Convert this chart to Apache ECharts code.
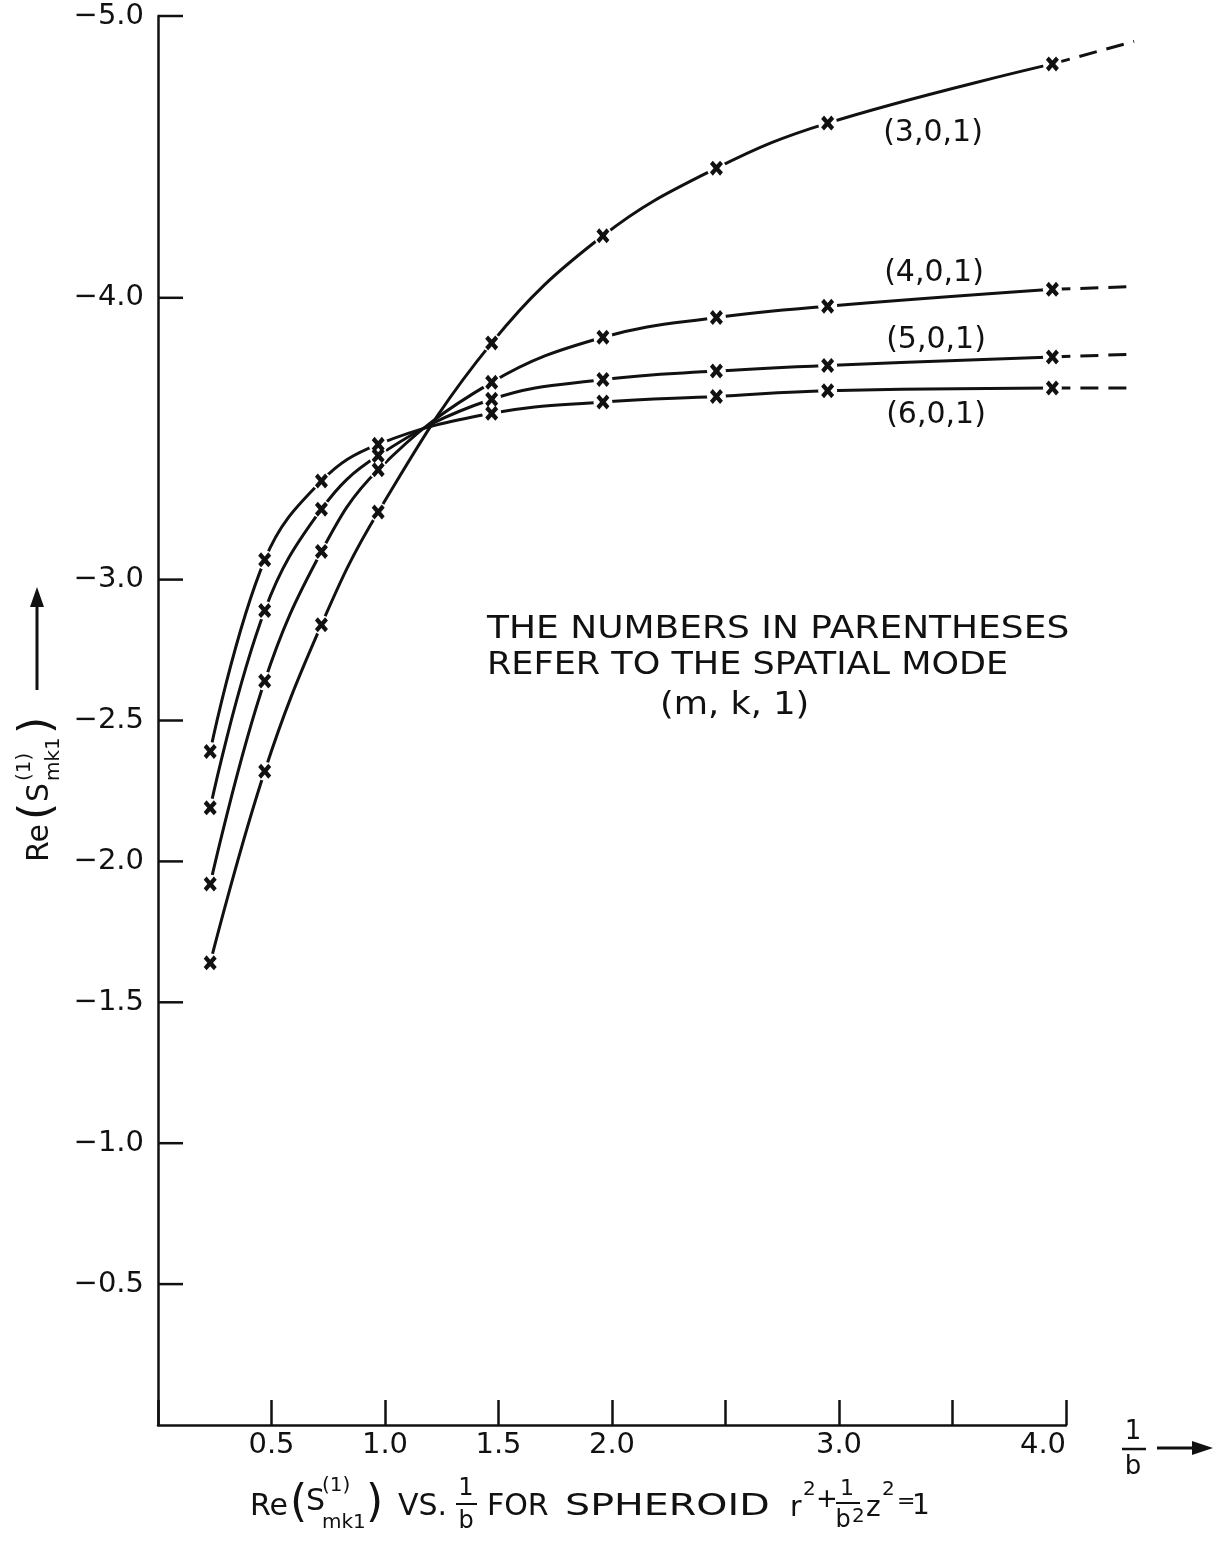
<!DOCTYPE html>
<html>
<head>
<meta charset="utf-8">
<script src="https://cdn.jsdelivr.net/npm/echarts@6/dist/echarts.min.js"></script>
<style>
  html, body { margin: 0; padding: 0; background: #fff; }
  #chart { width: 1216px; height: 1543px; }
</style>
</head>
<body>
<div id="chart"></div>
<script>
// 1/b at which the eigenvalues were computed
const xValues = [0.23, 0.47, 0.72, 0.97, 1.47, 1.96, 2.46, 2.95, 3.94];

// Re(S_mk1^(1)) for each spatial mode (m, k, 1)
const mode301 = [-1.64, -2.32, -2.84, -3.24, -3.84, -4.22, -4.46, -4.62, -4.83];
const mode401 = [-1.92, -2.64, -3.10, -3.39, -3.70, -3.86, -3.93, -3.97, -4.03];
const mode501 = [-2.19, -2.89, -3.25, -3.44, -3.64, -3.71, -3.74, -3.76, -3.79];
const mode601 = [-2.39, -3.07, -3.35, -3.48, -3.59, -3.63, -3.65, -3.67, -3.68];

// dashed continuation past the last computed point
const extendX = 4.30;
const extendValues = [-4.91, -4.04, -3.80, -3.68];

const modeNames = ['(3,0,1)', '(4,0,1)', '(5,0,1)', '(6,0,1)'];

// tick labels
const xLabelValues = [0.5, 1.0, 1.5, 2.0, 3.0, 4.0];
const xLabelTexts = ['0.5', '1.0', '1.5', '2.0', '3.0', '4.0'];
const yTickValues = [-5.0, -4.0, -3.0, -2.5, -2.0, -1.5, -1.0, -0.5];
const yTickTexts = ['\u22125.0', '\u22124.0', '\u22123.0', '\u22122.5', '\u22122.0', '\u22121.5', '\u22121.0', '\u22120.5'];

const FONT = '"DejaVu Sans", sans-serif';
const INK = '#111';
// hand-lettered "x" used for the computed points
const X_MARK = 'path://M0,2.2L2.2,0L5,2.8L7.8,0L10,2.2L7.2,5L10,7.8L7.8,10L5,7.2L2.2,10L0,7.8L2.8,5Z';

// plot area: the main grid ends at 1/b = 4.0; a second, wider grid with the
// same origin and scale carries the dashed continuations past that edge
const PLOT_LEFT = 158, PLOT_TOP = 16, PLOT_HEIGHT = 1409, PLOT_WIDTH = 908;
const X_MAX = 4, X_MAX_EXT = 4.4;

const modes = [mode301, mode401, mode501, mode601];
const pairs = vals => xValues.map((x, i) => [x, vals[i]]);
const last = xValues.length - 1;

const series = [];
modes.forEach((vals, k) => {
  series.push({
    name: modeNames[k],
    type: 'line',
    data: pairs(vals),
    smooth: 0.4,
    symbol: 'none',
    lineStyle: { color: INK, width: 3 },
    z: 2
  });
  series.push({
    type: 'line',
    xAxisIndex: 1,
    yAxisIndex: 1,
    data: [[xValues[last], vals[last]], [extendX, extendValues[k]]],
    symbol: 'none',
    lineStyle: { color: INK, width: 3, type: [18, 10] },
    z: 2
  });
});

const allPoints = modes.flatMap(pairs);
// white ring that breaks the curve around each plotted point
series.push({
  type: 'scatter',
  data: allPoints,
  symbol: 'circle',
  symbolSize: 19,
  itemStyle: { color: '#fff', opacity: 1 },
  z: 3
});
series.push({
  type: 'scatter',
  data: allPoints,
  symbol: X_MARK,
  symbolSize: [13, 15],
  itemStyle: { color: INK, opacity: 1 },
  z: 4
});
// y-axis ticks only at the labelled values
series.push({
  type: 'custom',
  data: yTickValues.map(v => [0, v]),
  clip: false,
  z: 5,
  renderItem: (params, api) => {
    const p = api.coord([0, api.value(1)]);
    return {
      type: 'line',
      shape: { x1: p[0], y1: p[1], x2: p[0] + 25, y2: p[1] },
      style: { stroke: INK, lineWidth: 2.5 }
    };
  }
});

function txt(text, x, y, size, opts) {
  opts = opts || {};
  const el = {
    type: 'text', x: x, y: y, z: 10,
    style: Object.assign({
      text: text,
      font: size + 'px ' + FONT,
      fill: INK,
      textAlign: 'left',
      textVerticalAlign: 'middle'
    }, opts.style || {})
  };
  if (opts.scaleX) el.scaleX = opts.scaleX;
  return el;
}
const center = { style: { textAlign: 'center' } };

const graphics = [
  // mode names
  txt(modeNames[0], 933, 133, 30, center),
  txt(modeNames[1], 934, 273, 30, center),
  txt(modeNames[2], 936, 340, 30, center),
  txt(modeNames[3], 936, 415, 30, center),

  // note
  txt('THE NUMBERS IN PARENTHESES', 487, 630, 32, { scaleX: 1.125 }),
  txt('REFER TO THE SPATIAL MODE', 487, 666, 32, { scaleX: 1.095 }),
  txt('(m, k, 1)', 660, 706, 32, { scaleX: 1.1 }),

  // horizontal axis variable with arrow
  txt('1', 1133, 1432, 26, center),
  { type: 'line', z: 10, shape: { x1: 1122, y1: 1449, x2: 1146, y2: 1449 }, style: { stroke: INK, lineWidth: 2.5 } },
  txt('b', 1133, 1467, 26, center),
  { type: 'line', z: 10, shape: { x1: 1157, y1: 1448, x2: 1196, y2: 1448 }, style: { stroke: INK, lineWidth: 3 } },
  { type: 'polygon', z: 10, shape: { points: [[1192, 1441], [1213, 1448], [1192, 1455]] }, style: { fill: INK } },

  // vertical axis title, rotated, with arrow
  {
    type: 'group', x: 40, y: 862, rotation: Math.PI / 2, z: 10,
    children: [
      txt('Re', 0, 0, 30),
      txt('(', 42, -1, 44),
      txt('S', 60, 0, 30),
      txt('(1)', 81, -15, 20),
      txt('mk1', 81, 14, 20),
      txt(')', 128, -1, 44),
      { type: 'line', shape: { x1: 172, y1: -3, x2: 258, y2: -3 }, style: { stroke: INK, lineWidth: 3 } },
      { type: 'polygon', shape: { points: [[255, -10], [275, -3], [255, 4]] }, style: { fill: INK } }
    ]
  },

  // caption
  txt('Re', 250, 1507, 30),
  txt('(', 290, 1505, 44),
  txt('S', 306, 1502, 30),
  txt('(1)', 322, 1486, 20),
  txt('mk1', 322, 1523, 20),
  txt(')', 366, 1505, 44),
  txt('VS.', 398, 1507, 30),
  txt('1', 466, 1489, 24, center),
  { type: 'line', z: 10, shape: { x1: 456, y1: 1504, x2: 477, y2: 1504 }, style: { stroke: INK, lineWidth: 2 } },
  txt('b', 466, 1522, 24, center),
  txt('FOR', 487, 1507, 30),
  txt('SPHEROID', 565, 1507, 30, { scaleX: 1.32 }),
  txt('r', 790, 1509, 28),
  txt('2', 803, 1490, 20),
  txt('+', 816, 1500, 26),
  txt('1', 847, 1489, 22, center),
  { type: 'line', z: 10, shape: { x1: 836, y1: 1503, x2: 860, y2: 1503 }, style: { stroke: INK, lineWidth: 2 } },
  txt('b', 843, 1521, 24, center),
  txt('2', 852, 1517, 20),
  txt('z', 866, 1509, 28),
  txt('2', 882, 1490, 20),
  txt('=', 897, 1502, 22),
  txt('1', 912, 1507, 28)
];

const hiddenAxis = { show: false, axisLine: { show: false }, axisTick: { show: false }, axisLabel: { show: false }, splitLine: { show: false } };

const option = {
  animation: false,
  backgroundColor: '#fff',
  grid: [
    { left: PLOT_LEFT, top: PLOT_TOP, width: PLOT_WIDTH, height: PLOT_HEIGHT },
    { left: PLOT_LEFT, top: PLOT_TOP, width: PLOT_WIDTH * X_MAX_EXT / X_MAX, height: PLOT_HEIGHT }
  ],
  xAxis: [{
    type: 'value',
    gridIndex: 0,
    min: 0,
    max: X_MAX,
    interval: 0.5,
    axisLine: { onZero: false, lineStyle: { color: INK, width: 2.5 } },
    axisTick: { inside: true, length: 25, lineStyle: { color: INK, width: 2.5 } },
    splitLine: { show: false },
    axisLabel: {
      margin: 6,
      color: INK,
      fontFamily: FONT,
      fontSize: 29,
      formatter: v => {
        const i = xLabelValues.findIndex(t => Math.abs(t - v) < 1e-6);
        if (i < 0) return '';
        return i === xLabelValues.length - 1 ? '{shift|' + xLabelTexts[i] + '}' : xLabelTexts[i];
      },
      rich: {
        shift: { fontFamily: FONT, fontSize: 29, color: INK, padding: [0, 46, 0, 0] }
      }
    }
  }, Object.assign({ type: 'value', gridIndex: 1, min: 0, max: X_MAX_EXT }, hiddenAxis)],
  yAxis: [{
    type: 'value',
    gridIndex: 0,
    min: -5,
    max: 0,
    interval: 0.5,
    inverse: true,
    axisLine: { show: true, onZero: false, lineStyle: { color: INK, width: 2.5 } },
    axisTick: { show: false },
    splitLine: { show: false },
    axisLabel: {
      margin: 14,
      color: INK,
      fontFamily: FONT,
      fontSize: 29,
      formatter: v => {
        const i = yTickValues.findIndex(t => Math.abs(t - v) < 1e-6);
        return i < 0 ? '' : yTickTexts[i];
      }
    }
  }, Object.assign({ type: 'value', gridIndex: 1, min: -5, max: 0, inverse: true }, hiddenAxis)],
  series: series,
  graphic: graphics
};

const chart = echarts.init(document.getElementById('chart'));
chart.setOption(option);
</script>
</body>
</html>
